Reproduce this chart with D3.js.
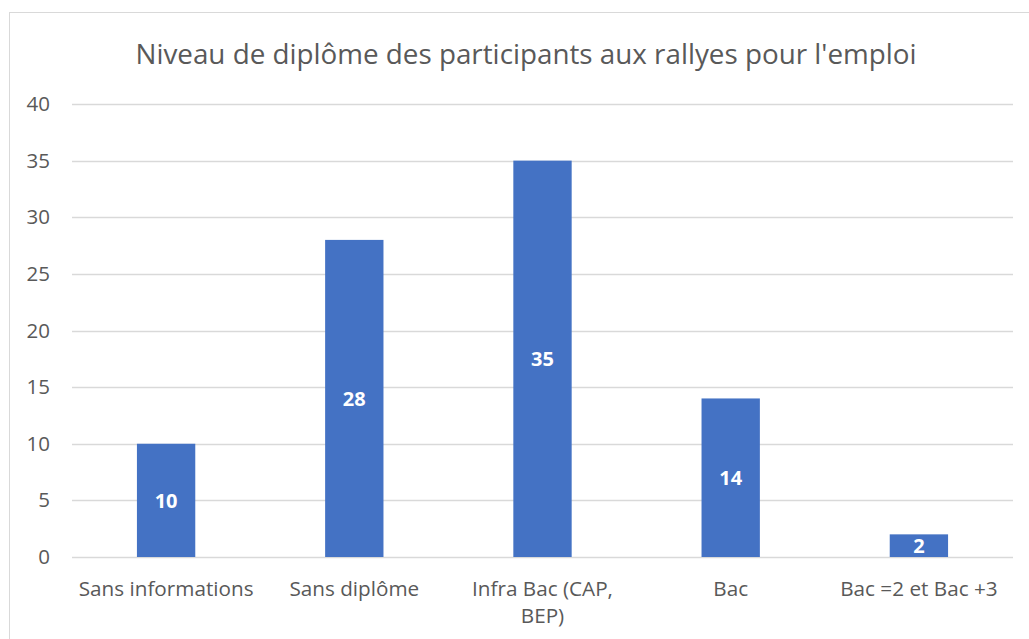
<!DOCTYPE html>
<html>
<head>
<meta charset="utf-8">
<script src="https://cdn.jsdelivr.net/npm/d3@7"></script>
<style>
  body { margin: 0; background: #fff; }
  text { font-family: "Open Sans", sans-serif; }
</style>
</head>
<body>
<div id="chart"></div>
<script>
// data
var categories = ['Sans informations', 'Sans diplôme', 'Infra Bac (CAP, BEP)', 'Bac', 'Bac =2 et Bac +3'];
var values = [10, 28, 35, 14, 2];
var yTicks = [0, 5, 10, 15, 20, 25, 30, 35, 40];
var title = "Niveau de diplôme des participants aux rallyes pour l'emploi";

var W = 1029, H = 639;
var margin = {top: 104, right: 16, bottom: 82, left: 72},
    width = W - margin.left - margin.right,
    height = H - margin.top - margin.bottom;

var textColor = '#595959';
var gridColor = '#d9d9d9';
var barColor = '#4472c4';

var svg = d3.select('#chart')
    .append('svg')
        .attr('width', W)
        .attr('height', H);

// outer chart border (runs off the right and bottom of the picture)
svg.append('rect')
    .attr('x', 9.5)
    .attr('y', 12.5)
    .attr('width', W + 20)
    .attr('height', H + 20)
    .attr('fill', 'none')
    .attr('stroke', gridColor)
    .attr('stroke-width', 1);

// title
svg.append('text')
    .attr('x', 526)
    .attr('y', 64)
    .attr('text-anchor', 'middle')
    .attr('fill', textColor)
    .attr('font-size', 27.8)
    .text(title);

var g = svg.append('g')
    .attr('transform', 'translate(' + margin.left + ',' + margin.top + ')');

var x = d3.scaleBand()
    .domain(categories)
    .range([0, width])
    .paddingInner(0.69)
    .paddingOuter(0.345);

var y = d3.scaleLinear()
    .domain([0, 40])
    .range([height, 0]);

// gridlines
g.append('g')
    .selectAll('line')
    .data(yTicks)
    .enter()
    .append('line')
        .attr('x1', 0)
        .attr('x2', width)
        .attr('y1', function(d) { return Math.round(y(d)) + 0.5; })
        .attr('y2', function(d) { return Math.round(y(d)) + 0.5; })
        .attr('stroke', gridColor)
        .attr('stroke-width', 1.5);

// y axis labels
var yAxis = g.append('g')
    .call(d3.axisLeft(y).tickValues(yTicks).tickSize(0).tickPadding(22));
yAxis.select('.domain').remove();
yAxis.selectAll('text')
    .attr('fill', textColor)
    .attr('font-size', 20.5)
    .style('font-family', '"Open Sans", sans-serif');

// bars
g.selectAll('.bar')
    .data(values)
    .enter()
    .append('rect')
        .attr('class', 'bar')
        .attr('x', function(d, i) { return x(categories[i]); })
        .attr('width', x.bandwidth())
        .attr('y', function(d) { return y(d); })
        .attr('height', function(d) { return height - y(d); })
        .attr('fill', barColor);

// data labels, centred in the bars
g.selectAll('.lbl')
    .data(values)
    .enter()
    .append('text')
        .attr('class', 'lbl')
        .attr('x', function(d, i) { return x(categories[i]) + x.bandwidth() / 2; })
        .attr('y', function(d) { return y(d / 2); })
        .attr('dy', '0.36em')
        .attr('text-anchor', 'middle')
        .attr('fill', '#fff')
        .attr('font-weight', 'bold')
        .attr('font-size', 20)
        .text(function(d) { return d; });

// x axis labels (wrapped like the original)
var xAxis = g.append('g')
    .attr('transform', 'translate(0,' + height + ')')
    .call(d3.axisBottom(x).tickSize(0).tickPadding(24));
xAxis.select('.domain').remove();
xAxis.selectAll('text')
    .attr('fill', textColor)
    .attr('font-size', 20.7)
    .style('font-family', '"Open Sans", sans-serif')
    .each(function(d) {
        var t = d3.select(this);
        if (d === 'Infra Bac (CAP, BEP)') {
            t.text(null);
            t.append('tspan').attr('x', 0).attr('dy', '0.71em').text('Infra Bac (CAP,');
            t.append('tspan').attr('x', 0).attr('dy', '1.3em').text('BEP)');
        }
    });
</script>
</body>
</html>
